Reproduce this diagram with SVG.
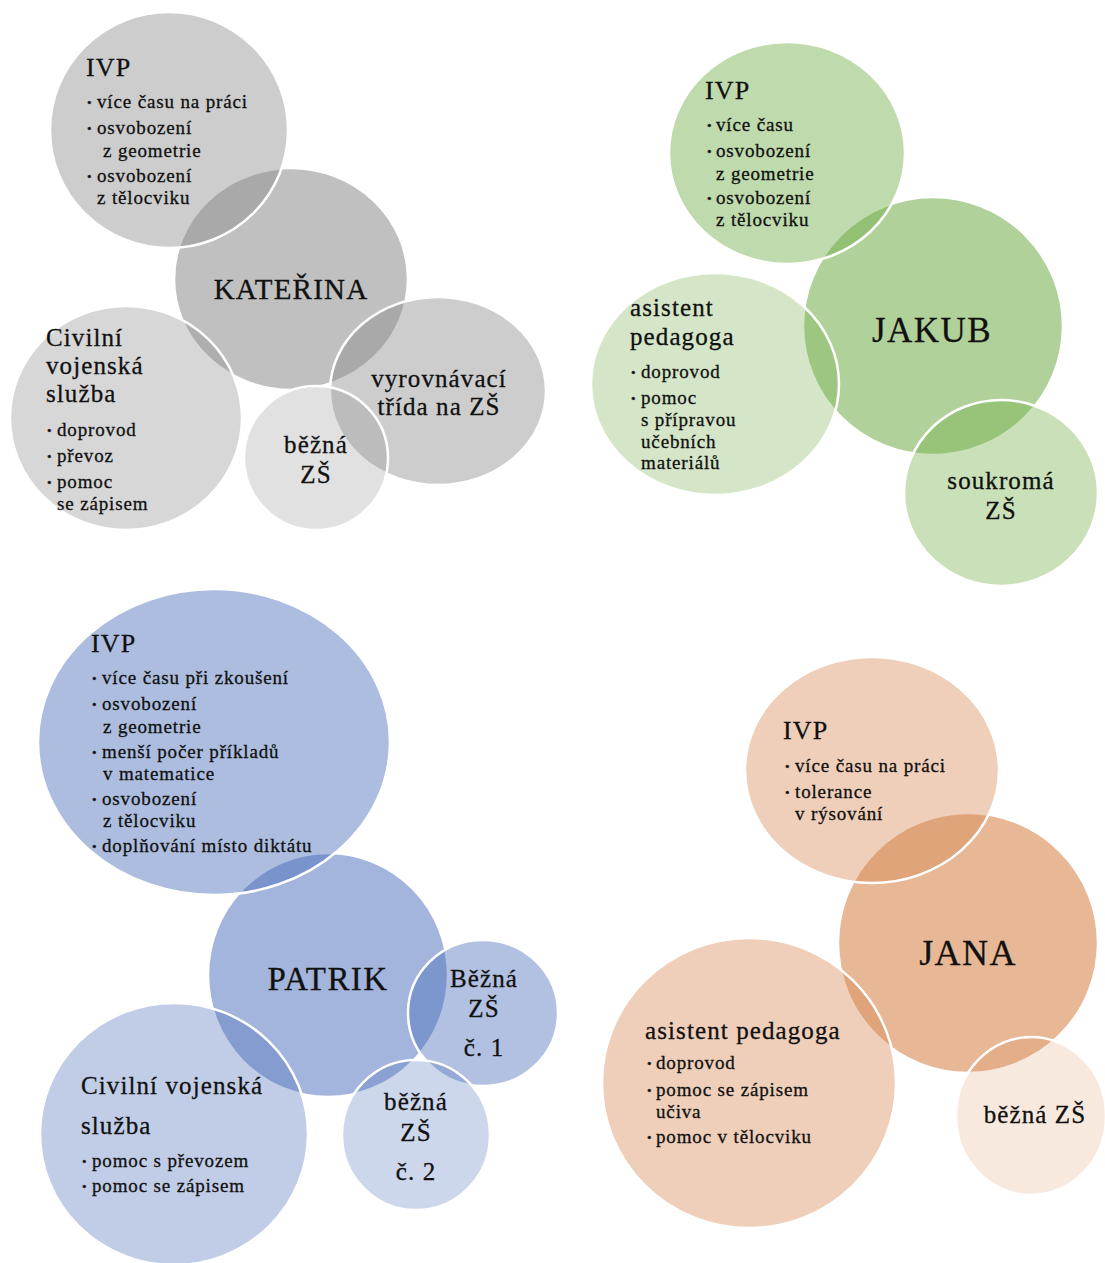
<svg xmlns="http://www.w3.org/2000/svg" width="1105" height="1263" viewBox="0 0 1105 1263">
<style>
  text { font-family: "Liberation Serif", "Times New Roman", serif; fill: #111111; stroke: #111111; stroke-width: 0.3px; }
  .c { stroke: #ffffff; stroke-width: 2.5; }
  .gray { fill: #8c8c8c; }
  .green { fill: #70ad47; }
  .blue { fill: #486cb9; }
  .orange { fill: #d78750; }
  .t { font-size: 26px; letter-spacing: 1.1px; }
  .h { font-size: 25px; letter-spacing: 1.1px; }
  .li { font-size: 19px; letter-spacing: 0.85px; }
  .b { font-size: 13px; }
  .mid { text-anchor: middle; }
</style>
<rect width="1105" height="1263" fill="#ffffff"/>

<!-- KATEŘINA -->
<g id="katerina">
  <ellipse class="c gray" cx="291" cy="279" rx="117" ry="111" fill-opacity="0.55"/>
  <text class="mid" x="291" y="299" style="font-size:29px;letter-spacing:1.2px">KATEŘINA</text>
</g>
<g id="katerina-ivp">
  <ellipse class="c gray" cx="169" cy="130" rx="119" ry="118" fill-opacity="0.43"/>
  <text class="t" x="86" y="76">IVP</text>
  <text class="b" x="87" y="107">•</text><text class="li" x="97" y="108">více času na práci</text>
  <text class="b" x="87" y="133">•</text><text class="li" x="97" y="134">osvobození</text>
  <text class="li" x="103" y="157">z geometrie</text>
  <text class="b" x="87" y="181">•</text><text class="li" x="97" y="182">osvobození</text>
  <text class="li" x="97" y="204">z tělocviku</text>
</g>
<g id="katerina-civilni">
  <ellipse class="c gray" cx="126" cy="418" rx="116" ry="112" fill-opacity="0.35"/>
  <text class="h" x="46" y="346">Civilní</text>
  <text class="h" x="46" y="374">vojenská</text>
  <text class="h" x="46" y="402">služba</text>
  <text class="b" x="47" y="435">•</text><text class="li" x="57" y="436">doprovod</text>
  <text class="b" x="47" y="461">•</text><text class="li" x="57" y="462">převoz</text>
  <text class="b" x="47" y="487">•</text><text class="li" x="57" y="488">pomoc</text>
  <text class="li" x="57" y="510">se zápisem</text>
</g>
<g id="katerina-vyrovnavaci">
  <ellipse class="c gray" cx="438" cy="391" rx="108" ry="94" fill-opacity="0.43"/>
  <text class="h mid" x="439" y="387">vyrovnávací</text>
  <text class="h mid" x="439" y="415">třída na ZŠ</text>
</g>
<g id="katerina-bezna">
  <ellipse class="c gray" cx="316" cy="458" rx="72" ry="72" fill-opacity="0.26"/>
  <text class="h mid" x="316" y="453">běžná</text>
  <text class="h mid" x="316" y="483">ZŠ</text>
</g>

<!-- JAKUB -->
<g id="jakub">
  <ellipse class="c green" cx="933" cy="326" rx="130" ry="129" fill-opacity="0.55"/>
  <text class="mid" x="932" y="342" style="font-size:35px;letter-spacing:1.4px">JAKUB</text>
</g>
<g id="jakub-ivp">
  <ellipse class="c green" cx="787" cy="153" rx="118" ry="111" fill-opacity="0.45"/>
  <text class="t" x="705" y="99">IVP</text>
  <text class="b" x="707" y="130">•</text><text class="li" x="716" y="131">více času</text>
  <text class="b" x="707" y="156">•</text><text class="li" x="716" y="157">osvobození</text>
  <text class="li" x="716" y="180">z geometrie</text>
  <text class="b" x="707" y="203">•</text><text class="li" x="716" y="204">osvobození</text>
  <text class="li" x="716" y="226">z tělocviku</text>
</g>
<g id="jakub-asistent">
  <ellipse class="c green" cx="715" cy="384" rx="124" ry="111" fill-opacity="0.3"/>
  <text class="h" x="630" y="316">asistent</text>
  <text class="h" x="630" y="345">pedagoga</text>
  <text class="b" x="631" y="377">•</text><text class="li" x="641" y="378">doprovod</text>
  <text class="b" x="631" y="403">•</text><text class="li" x="641" y="404">pomoc</text>
  <text class="li" x="641" y="426">s přípravou</text>
  <text class="li" x="641" y="448">učebních</text>
  <text class="li" x="641" y="469">materiálů</text>
</g>
<g id="jakub-soukroma">
  <ellipse class="c green" cx="1001" cy="493" rx="97" ry="93" fill-opacity="0.38"/>
  <text class="h mid" x="1001" y="489">soukromá</text>
  <text class="h mid" x="1001" y="519">ZŠ</text>
</g>

<!-- PATRIK -->
<g id="patrik">
  <ellipse class="c blue" cx="328" cy="975" rx="120" ry="122" fill-opacity="0.5"/>
  <text class="mid" x="328" y="990" style="font-size:33px;letter-spacing:1.4px">PATRIK</text>
</g>
<g id="patrik-ivp">
  <ellipse class="c blue" cx="214" cy="742" rx="176" ry="153" fill-opacity="0.45"/>
  <text class="t" x="91" y="652">IVP</text>
  <text class="b" x="92" y="683">•</text><text class="li" x="102" y="684">více času při zkoušení</text>
  <text class="b" x="92" y="709">•</text><text class="li" x="102" y="710">osvobození</text>
  <text class="li" x="103" y="733">z geometrie</text>
  <text class="b" x="92" y="757">•</text><text class="li" x="102" y="758">menší počer příkladů</text>
  <text class="li" x="103" y="780">v matematice</text>
  <text class="b" x="92" y="804">•</text><text class="li" x="102" y="805">osvobození</text>
  <text class="li" x="103" y="827">z tělocviku</text>
  <text class="b" x="92" y="851">•</text><text class="li" x="102" y="852">doplňování místo diktátu</text>
</g>
<g id="patrik-civilni">
  <ellipse class="c blue" cx="174" cy="1134" rx="134" ry="131" fill-opacity="0.34"/>
  <text class="h" x="81" y="1094">Civilní vojenská</text>
  <text class="h" x="81" y="1134">služba</text>
  <text class="b" x="82" y="1166">•</text><text class="li" x="92" y="1167">pomoc s převozem</text>
  <text class="b" x="82" y="1191">•</text><text class="li" x="92" y="1192">pomoc se zápisem</text>
</g>
<g id="patrik-bezna1">
  <ellipse class="c blue" cx="483" cy="1013" rx="75" ry="73" fill-opacity="0.42"/>
  <text class="h mid" x="484" y="987">Běžná</text>
  <text class="h mid" x="484" y="1017">ZŠ</text>
  <text class="h mid" x="484" y="1056">č. 1</text>
</g>
<g id="patrik-bezna2">
  <ellipse class="c blue" cx="416" cy="1135" rx="74" ry="75" fill-opacity="0.27"/>
  <text class="h mid" x="416" y="1110">běžná</text>
  <text class="h mid" x="416" y="1141">ZŠ</text>
  <text class="h mid" x="416" y="1180">č. 2</text>
</g>

<!-- JANA -->
<g id="jana">
  <ellipse class="c orange" cx="968" cy="943" rx="130" ry="130" fill-opacity="0.6"/>
  <text class="mid" x="968" y="965" style="font-size:36px;letter-spacing:1.4px">JANA</text>
</g>
<g id="jana-ivp">
  <ellipse class="c orange" cx="872" cy="770" rx="127" ry="113" fill-opacity="0.4"/>
  <text class="t" x="783" y="739">IVP</text>
  <text class="b" x="785" y="771">•</text><text class="li" x="795" y="772">více času na práci</text>
  <text class="b" x="785" y="797">•</text><text class="li" x="795" y="798">tolerance</text>
  <text class="li" x="795" y="820">v rýsování</text>
</g>
<g id="jana-asistent">
  <ellipse class="c orange" cx="749" cy="1083" rx="147" ry="145" fill-opacity="0.4"/>
  <text class="h" x="645" y="1039">asistent pedagoga</text>
  <text class="b" x="647" y="1068">•</text><text class="li" x="656" y="1069">doprovod</text>
  <text class="b" x="647" y="1095">•</text><text class="li" x="656" y="1096">pomoc se zápisem</text>
  <text class="li" x="656" y="1118">učiva</text>
  <text class="b" x="647" y="1142">•</text><text class="li" x="656" y="1143">pomoc v tělocviku</text>
</g>
<g id="jana-bezna">
  <ellipse class="c orange" cx="1031" cy="1116" rx="75" ry="79" fill-opacity="0.18"/>
  <text class="h mid" x="1035" y="1123">běžná ZŠ</text>
</g>

<g id="connectors"></g>
</svg>
